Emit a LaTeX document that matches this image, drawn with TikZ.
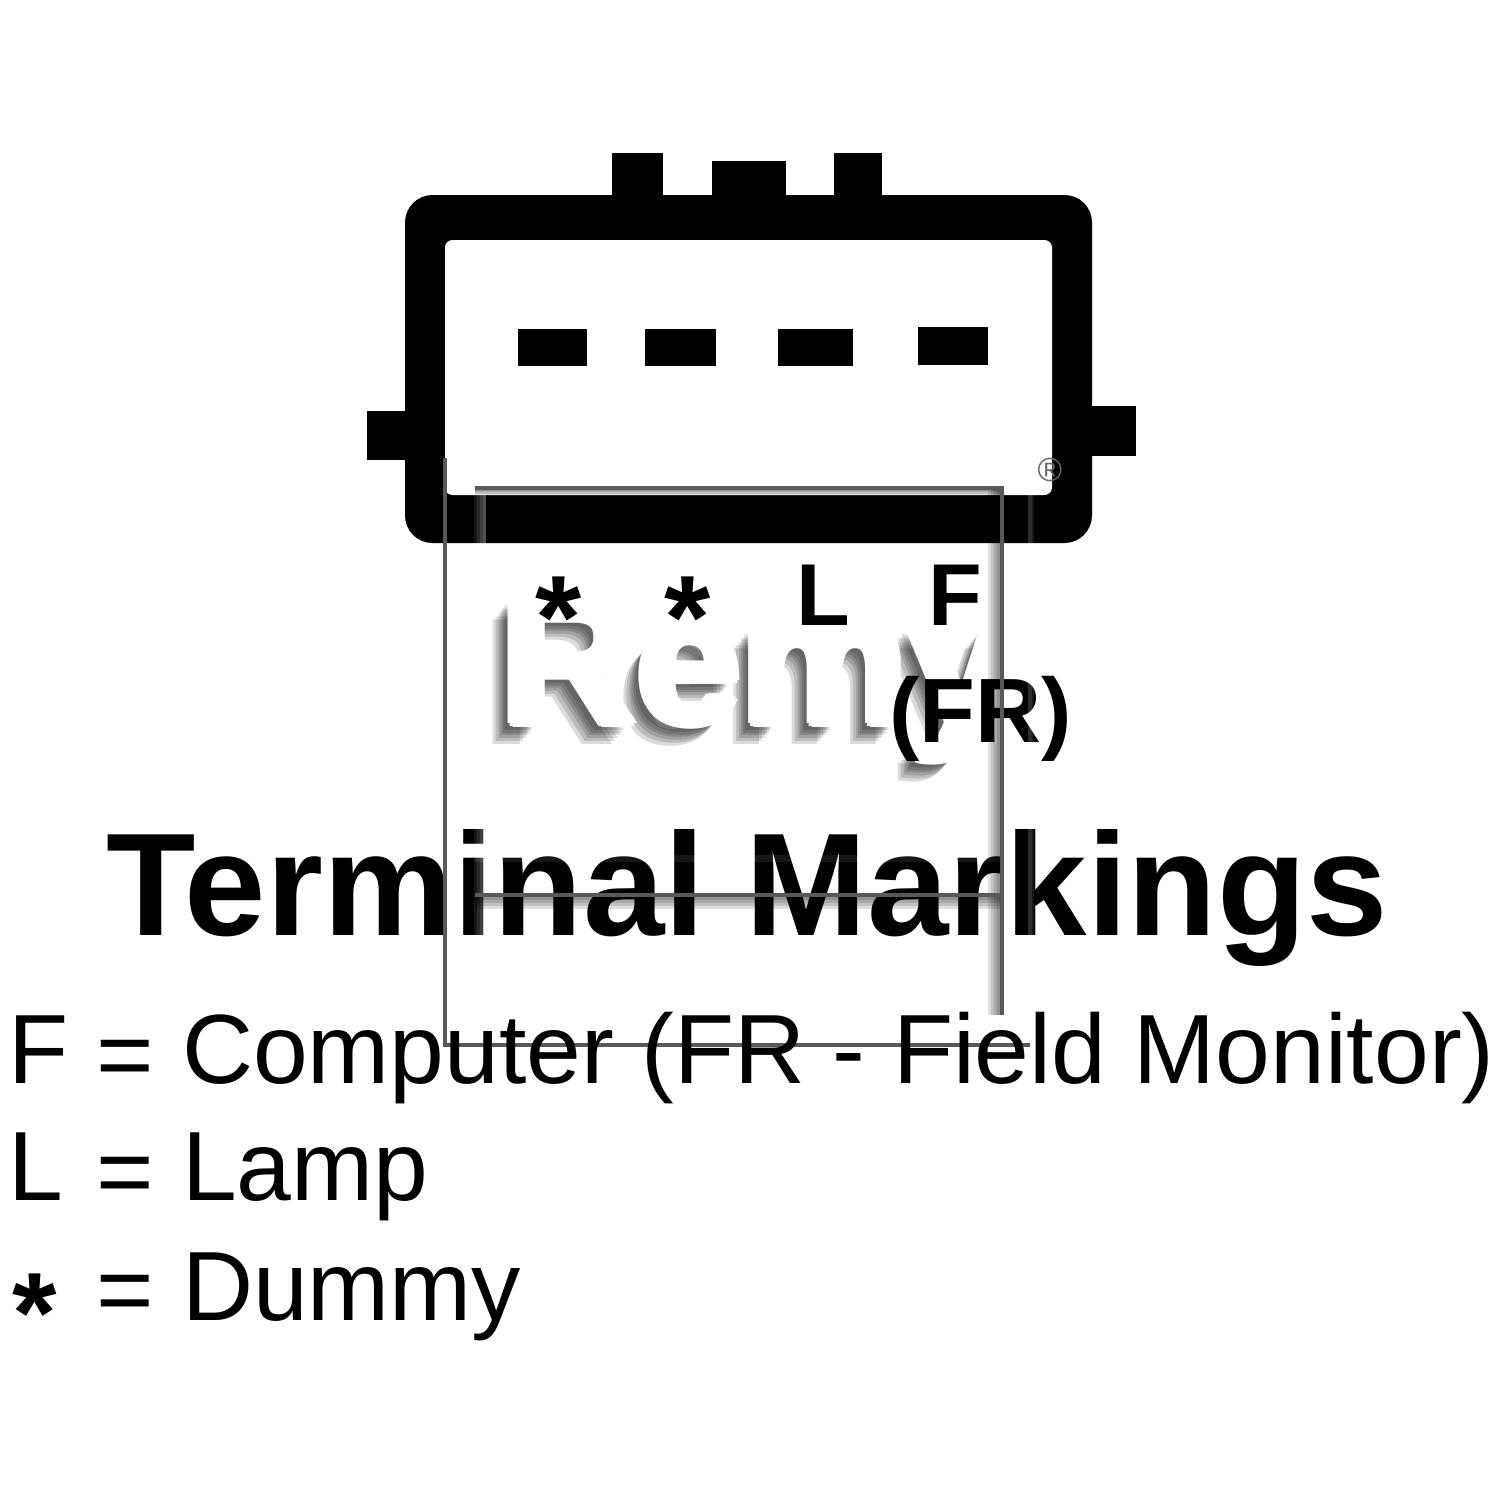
\documentclass[tikz,border=0pt]{standalone}
\usepackage{fontspec}
\setmainfont{Liberation Sans}
\tikzset{
 px/.style={x=0.04cm,y=-0.04cm},
 solid block/.style={fill=black,draw=none},
 big/.style={font=\fontsize{112}{112}\selectfont,anchor=base west,inner sep=0pt},
 pin label/.style={font=\fontsize{100}{100}\bfseries\selectfont,anchor=base west,inner sep=0pt},
 star label/.style={font=\fontsize{135}{135}\bfseries\selectfont,anchor=base west,inner sep=0pt},
 wmfont/.style={font=\fontsize{206}{206}\bfseries\selectfont,anchor=base west,inner sep=0pt,xscale=1.04},
 frame line/.style={draw=black!65,line width=0.13cm},
 band/.style={fill=white,opacity=0.09,draw=none},
 shade strip/.style={fill=black,opacity=0.13,draw=none},
}
\begin{document}
\begin{tikzpicture}[px]
\useasboundingbox (0,0) rectangle (1500,1500);
\fill[white] (0,0) rectangle (1500,1500);
% pins
\fill[solid block] (612,153) rectangle (663,205);
\fill[solid block] (712,161) rectangle (786,205);
\fill[solid block] (834,153) rectangle (882,205);
\fill[solid block] (367,411) rectangle (415,460);
\fill[solid block] (1085,406) rectangle (1136,456);
% body
\fill[solid block,rounded corners=1.1cm] (405,195) -- (1092,195) -- (1092,543) -- (405,543) -- cycle;
\fill[white,rounded corners=0.3cm] (445,240) rectangle (1052,495);
% terminals
\fill[solid block] (518,329) rectangle (587,366);
\fill[solid block] (645,329) rectangle (716,366);
\fill[solid block] (778,329) rectangle (853,366);
\fill[solid block] (918,327) rectangle (988,365);
% title
\node[anchor=base west,inner sep=0pt,font=\fontsize{166.5}{166.5}\bfseries\selectfont] (title) at (106,935) {Terminal Markings};
% watermark shadow and letters
\foreach \i/\dx/\dy in {1/-16/19,2/-13/16,3/-10/13,4/-8/10,5/-6/8,6/-4/5}{
  \node[wmfont,text=black,text opacity=0.14] (rs\i) at ({496+\dx},{725+\dy}) {Remy};
}
\foreach \i/\dx/\dy in {1/-5/0,2/-3/-3,3/-3/3,4/0/-4,5/0/4,6/3/-3,7/3/3,8/5/0}{
  \node[wmfont,text=white] (rw\i) at ({500+\dx},{723+\dy}) {Remy};
}
\node[wmfont,text=white] (remy) at (500,723) {Remy};
% pin labels
\node[star label] (s1) at (535,658) {*};
\node[star label] (s2) at (664,658) {*};
\node[pin label] (pL) at (796,625) {L};
\node[pin label] (pF) at (928,625) {F};
\node[pin label,font=\fontsize{104}{104}\bfseries\selectfont] (pFR) at (889,742) {(FR)};
% watermark frame: soft light bands over the black
\foreach \a in {474,477,480,483}{
  \fill[band] (\a,495) rectangle (486,1015);
}
\fill[band] (1028,495) rectangle (1034,1040);
\fill[band] (1028,495) rectangle (1032,1040);
\fill[band] (475,855) rectangle (1002,862);
% watermark frame: soft shadows
\foreach \a in {2,5,8,11,14}{
  \fill[shade strip] (475,895) rectangle (1002,{895+\a});
  \fill[shade strip] ({1002-\a},488) rectangle (1002,1015);
  \fill[shade strip] (475,488) rectangle (1002,{488+\a/2});
}
% watermark frame: lines
\draw[frame line] (445,458) -- (445,1045) -- (1030,1045);
\draw[frame line] (475,488) -- (1002,488) -- (1002,1015);
\draw[frame line] (475,895) -- (1002,895);
\node[inner sep=0pt,font=\fontsize{38}{38}\selectfont,text=black!60] (reg) at (1050,470) {\textregistered};
% legend
\node[big] (l1) at (8,1083) {F};
\node[big] (e1) at (96,1088) {=};
\node[big] (t1) at (182,1083) {Computer (FR - Field Monitor)};
\node[big] (l2) at (8,1200) {L};
\node[big] (e2) at (96,1205) {=};
\node[big] (t2) at (182,1200) {Lamp};
\node[star label,font=\fontsize{130}{130}\bfseries\selectfont] (l3) at (12,1352) {*};
\node[big] (e3) at (96,1323) {=};
\node[big] (t3) at (182,1320) {Dummy};
\end{tikzpicture}
\end{document}
